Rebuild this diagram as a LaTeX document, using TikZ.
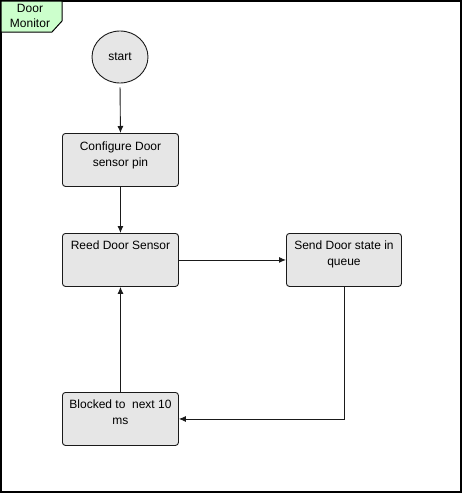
\documentclass[tikz,border=0pt]{standalone}
\usepackage{fontspec}
\setmainfont{Liberation Sans}
\usetikzlibrary{arrows.meta,shapes.geometric}
\definecolor{boxfill}{HTML}{E6E6E6}
\definecolor{tabfill}{HTML}{CCFFCC}
\definecolor{linec}{HTML}{1A1A1A}
\tikzset{
  x=1pt, y=-1pt,
  procbox/.style={draw=linec, fill=boxfill, rounded corners=3pt, line width=0.9pt,
    minimum width=116pt, minimum height=53pt, inner sep=0pt, anchor=north west},
  boxtext/.style={anchor=north, align=center, inner sep=0pt,
    font=\fontsize{12}{16}\selectfont},
  conn/.style={draw=linec, line width=0.9pt, -{Latex[length=7pt,width=6pt]}},
}
\begin{document}
\begin{tikzpicture}
\useasboundingbox (0,0) rectangle (462,493);
% frame
\draw[line width=1.2pt, black] (1,1) rectangle (461,492);
% tab
\draw[line width=1pt, black, fill=tabfill] (1,1) -- (62,1) -- (62,21) -- (52,32) -- (1,32) -- cycle;
\node[align=center, inner sep=0pt, font=\fontsize{12}{15}\selectfont] (tab) at (30,16) {Door\\Monitor};
% start
\node[draw=linec, fill=boxfill, ellipse, line width=0.9pt, minimum width=56pt, minimum height=52pt, inner sep=0pt,
  font=\fontsize{12}{14}\selectfont] (start) at (120,57) {start};
% boxes
\node[procbox] (cfg) at (62,133) {};
\node[boxtext] (cfgt) at ([yshift=-9pt]cfg.north) {Configure Door\\sensor pin};
\node[procbox] (reed) at (62,233) {};
\node[boxtext] (reedt) at ([yshift=-8pt]reed.north) {Reed Door Sensor};
\node[procbox, minimum width=115pt] (send) at (286,233) {};
\node[boxtext] (sendt) at ([yshift=-8pt]send.north) {Send Door state in\\queue};
\node[procbox] (blk) at (62,392) {};
\node[boxtext] (blkt) at ([yshift=-8pt]blk.north) {Blocked to\ \ next 10\\ms};
% connectors
\draw[conn, shorten <=4pt] (start.south) -- (cfg.north);
\draw[conn] (cfg.south) -- (reed.north);
\draw[conn] (reed.east) -- (send.west);
\draw[conn] (send.south) |- (blk.east);
\draw[conn] (blk.north) -- (reed.south);
\end{tikzpicture}
\end{document}
